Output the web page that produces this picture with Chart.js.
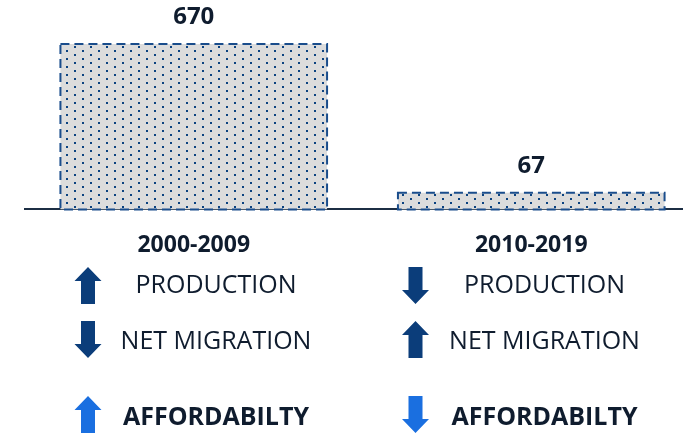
<!DOCTYPE html>
<html>
<head>
<meta charset="utf-8">
<script src="https://cdn.jsdelivr.net/npm/chart.js@4.4.0/dist/chart.umd.min.js"></script>
<style>
  html, body { margin: 0; padding: 0; background: #fff; overflow: hidden; }
  #wrap { width: 683px; height: 433px; overflow: hidden; }
</style>
</head>
<body>
<div id="wrap"><canvas id="chart" width="700" height="433"></canvas></div>
<script>
const periods = ['2000-2009', '2010-2019'];
const values = [670, 67];
const indicatorNames = ['PRODUCTION', 'NET MIGRATION', 'AFFORDABILTY'];
const production = ['up', 'down'];
const netMigration = ['down', 'up'];
const affordability = ['up', 'down'];

const TEXT = '#0f1c2e';
const NAVY = '#0b3d7a';
const BRIGHT = '#1a6fe0';

// dotted fill like the office "small grid" pattern
function dotPattern() {
  const c = document.createElement('canvas');
  c.width = 16; c.height = 8;
  const g = c.getContext('2d');
  g.fillStyle = '#dcdcdc';
  g.fillRect(0, 0, 16, 8);
  g.fillStyle = '#0b4280';
  g.fillRect(2, 2, 2, 2);
  g.fillRect(10, 6, 2, 2);
  return g.createPattern(c, 'repeat');
}

function drawArrow(ctx, cx, top, dir, color) {
  const h = 37, headW = 27, shaftW = 14, headH = 14;
  const bottom = top + h;
  ctx.fillStyle = color;
  ctx.beginPath();
  if (dir === 'up') {
    ctx.moveTo(cx, top);
    ctx.lineTo(cx + headW / 2, top + headH);
    ctx.lineTo(cx + shaftW / 2, top + headH);
    ctx.lineTo(cx + shaftW / 2, bottom);
    ctx.lineTo(cx - shaftW / 2, bottom);
    ctx.lineTo(cx - shaftW / 2, top + headH);
    ctx.lineTo(cx - headW / 2, top + headH);
  } else {
    ctx.moveTo(cx - shaftW / 2, top);
    ctx.lineTo(cx + shaftW / 2, top);
    ctx.lineTo(cx + shaftW / 2, bottom - headH);
    ctx.lineTo(cx + headW / 2, bottom - headH);
    ctx.lineTo(cx, bottom);
    ctx.lineTo(cx - headW / 2, bottom - headH);
    ctx.lineTo(cx - shaftW / 2, bottom - headH);
  }
  ctx.closePath();
  ctx.fill();
}

const barExtras = {
  id: 'barExtras',
  afterDatasetsDraw(chart) {
    const ctx = chart.ctx;
    const meta = chart.getDatasetMeta(0);
    ctx.save();
    meta.data.forEach((bar, i) => {
      const left = bar.x - bar.width / 2;
      const right = bar.x + bar.width / 2;
      // dashed outline
      ctx.strokeStyle = '#1a4d8c';
      ctx.lineWidth = 2;
      ctx.setLineDash([9, 5]);
      ctx.beginPath();
      ctx.moveTo(left, bar.y);
      ctx.lineTo(right, bar.y);
      ctx.lineTo(right, bar.base);
      ctx.lineTo(left, bar.base);
      ctx.closePath();
      ctx.stroke();
      ctx.setLineDash([]);
      // value label
      ctx.fillStyle = TEXT;
      ctx.font = 'bold 24px "Open Sans"';
      ctx.textAlign = 'center';
      ctx.textBaseline = 'middle';
      ctx.fillText(values[i], bar.x, bar.y - 27);
    });
    ctx.restore();
  },
  afterDraw(chart) {
    const ctx = chart.ctx;
    const arrowX = [88, 415.5];
    const textX = [216, 544.5];
    const arrowTop = [267, 321, 396];
    const textY = [286, 342, 418];
    const rows = [production, netMigration, affordability];
    ctx.save();
    ctx.textAlign = 'center';
    ctx.textBaseline = 'middle';
    rows.forEach((dirs, r) => {
      dirs.forEach((dir, c) => {
        drawArrow(ctx, arrowX[c], arrowTop[r], dir, r === 2 ? BRIGHT : NAVY);
        ctx.fillStyle = TEXT;
        ctx.font = (r === 2 ? 'bold 25px' : '25px') + ' "Open Sans"';
        ctx.fillText(indicatorNames[r], textX[c], textY[r]);
      });
    });
    ctx.restore();
  }
};

new Chart(document.getElementById('chart'), {
  type: 'bar',
  data: {
    labels: periods,
    datasets: [{
      data: values,
      backgroundColor: dotPattern(),
      borderWidth: 0,
      barPercentage: 0.79,
      categoryPercentage: 1
    }]
  },
  options: {
    responsive: false,
    animation: false,
    layout: { padding: { left: 25, right: 0, top: 12, bottom: 152 } },
    plugins: { legend: { display: false }, tooltip: { enabled: false } },
    scales: {
      x: {
        grid: { display: false, drawTicks: false },
        border: { display: true, color: '#1c2e44', width: 2 },
        ticks: {
          color: TEXT,
          padding: 22,
          font: { family: 'Open Sans', size: 23, weight: 'bold' }
        }
      },
      y: { display: false, min: 0, max: 800 }
    }
  },
  plugins: [barExtras]
});
</script>
</body>
</html>
